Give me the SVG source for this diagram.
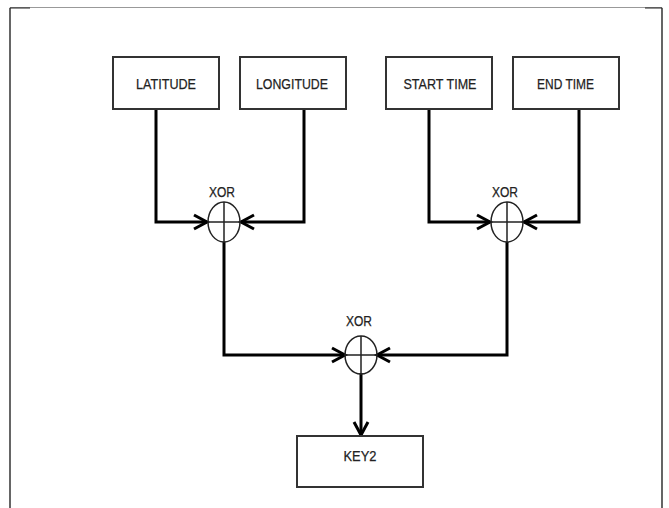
<svg xmlns="http://www.w3.org/2000/svg" width="669" height="508" viewBox="0 0 669 508">
<style>
.box{fill:#fff;stroke:#333;stroke-width:2}
.t{font-family:"Liberation Sans",Arial,sans-serif;font-size:15px;fill:#222;text-anchor:middle;stroke:#222;stroke-width:0.25}
.c{fill:none;stroke:#000;stroke-width:3}
.x{fill:none;stroke:#222;stroke-width:1.5}
</style>
<defs>
<marker id="ah" markerUnits="userSpaceOnUse" markerWidth="20" markerHeight="20" refX="14" refY="8" orient="auto" overflow="visible">
<path d="M1,1 L14,8 L1,15" fill="none" stroke="#000" stroke-width="3"/>
</marker>
</defs>
<rect width="669" height="508" fill="#fff"/>
<g id="frame">
<path d="M10,508 V7.5 H662 V508" fill="none" stroke="#999" stroke-width="1"/>
<path d="M10,508 V8 M10,8 H30 M662,8 V508 M645,8 H662" fill="none" stroke="#222" stroke-width="1.2"/>
</g>
<g id="connectors">
<path class="c" d="M156,109 V222 H207" marker-end="url(#ah)"/>
<path class="c" d="M304,109 V222 H241" marker-end="url(#ah)"/>
<path class="c" d="M429,109 V222 H490" marker-end="url(#ah)"/>
<path class="c" d="M579,109 V222 H524" marker-end="url(#ah)"/>
<path class="c" d="M224,242 V355 H345" marker-end="url(#ah)"/>
<path class="c" d="M507,242 V355 H377" marker-end="url(#ah)"/>
<path class="c" d="M361,373 V435" marker-end="url(#ah)"/>
</g>
<g id="latitude"><rect class="box" x="113" y="57" width="106" height="52"/><text class="t" x="166" y="89" textLength="60" lengthAdjust="spacingAndGlyphs">LATITUDE</text></g>
<g id="longitude"><rect class="box" x="240" y="57" width="106" height="52"/><text class="t" x="292" y="89" textLength="72" lengthAdjust="spacingAndGlyphs">LONGITUDE</text></g>
<g id="starttime"><rect class="box" x="386" y="57" width="106" height="52"/><text class="t" x="440" y="89" textLength="73" lengthAdjust="spacingAndGlyphs">START TIME</text></g>
<g id="endtime"><rect class="box" x="513" y="57" width="106" height="52"/><text class="t" x="565.5" y="89" textLength="57" lengthAdjust="spacingAndGlyphs">END TIME</text></g>
<g id="xor1"><ellipse class="x" cx="224" cy="222" rx="16" ry="20"/><path class="x" d="M208,222 H240 M224,202 V242"/><text class="t" x="222" y="197" textLength="26" lengthAdjust="spacingAndGlyphs">XOR</text></g>
<g id="xor2"><ellipse class="x" cx="507" cy="222" rx="16" ry="20"/><path class="x" d="M491,222 H523 M507,202 V242"/><text class="t" x="505" y="197" textLength="26" lengthAdjust="spacingAndGlyphs">XOR</text></g>
<g id="xor3"><ellipse class="x" cx="361" cy="355" rx="16" ry="19"/><path class="x" d="M345,355 H377 M361,336 V374"/><text class="t" x="359" y="326" textLength="26" lengthAdjust="spacingAndGlyphs">XOR</text></g>
<g id="key2"><rect class="box" x="297" y="436" width="126" height="51"/><text class="t" x="360" y="461" textLength="33" lengthAdjust="spacingAndGlyphs">KEY2</text></g>
</svg>
